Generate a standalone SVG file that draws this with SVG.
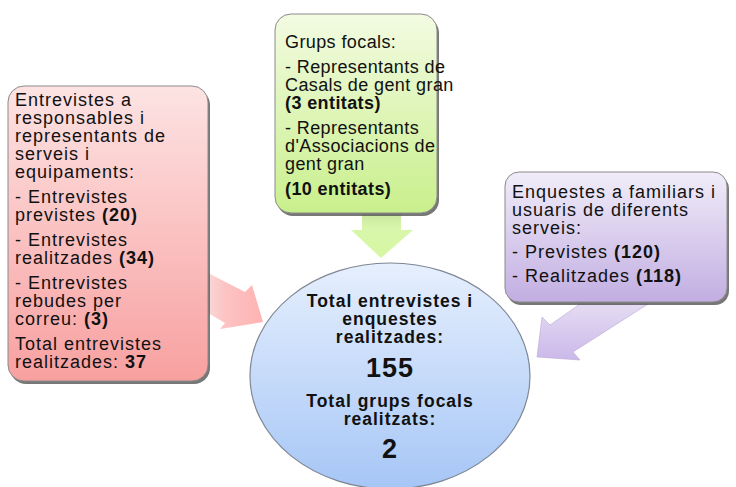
<svg xmlns="http://www.w3.org/2000/svg" width="736" height="487" viewBox="0 0 736 487">
<defs>
<linearGradient id="gPink" x1="0" y1="0" x2="0" y2="1"><stop offset="0" stop-color="#fde3e3"/><stop offset="1" stop-color="#f8a0a0"/></linearGradient>
<linearGradient id="gGreen" x1="0" y1="0" x2="0" y2="1"><stop offset="0" stop-color="#f3fbe2"/><stop offset="1" stop-color="#c9ef8c"/></linearGradient>
<linearGradient id="gPurple" x1="0" y1="0" x2="0" y2="1"><stop offset="0" stop-color="#f1edf9"/><stop offset="1" stop-color="#c2aee2"/></linearGradient>
<linearGradient id="gBlue" x1="0" y1="0" x2="0" y2="1"><stop offset="0" stop-color="#e6effd"/><stop offset="1" stop-color="#a6c6f6"/></linearGradient>
<linearGradient id="aPink" x1="0" y1="0" x2="1" y2="0"><stop offset="0" stop-color="#fbd6d6"/><stop offset="0.3" stop-color="#fcc4c4"/><stop offset="1" stop-color="#ffb2b2"/></linearGradient>
<linearGradient id="aGreen" x1="0" y1="0" x2="0" y2="1"><stop offset="0" stop-color="#c8e6a0"/><stop offset="0.3" stop-color="#d8f6aa"/><stop offset="1" stop-color="#d6f7a4"/></linearGradient>
<linearGradient id="aPurple" x1="0" y1="0" x2="0" y2="1"><stop offset="0" stop-color="#e4dcf2"/><stop offset="1" stop-color="#cbb8ea"/></linearGradient>
</defs>
<style>
text{font-family:"Liberation Sans",Arial,sans-serif;font-size:18px;letter-spacing:1px;fill:#111}
.b{font-weight:bold}
.g{letter-spacing:0.4px}
.c{text-anchor:middle;font-weight:bold;font-size:17.5px}
.big{font-size:27px}
.shadow{fill:#555;opacity:0.8}
.box{stroke:#8a8a8a;stroke-width:1}
</style>
<g id="connectors">
<polygon points="208,273 245,292 252,285 263,322 220,329 225,323 208,313" fill="url(#aPink)"/>
<polygon points="362,214 401,214 401,230 413,230 381,258 351,230 362,230" fill="url(#aGreen)"/>
<polygon points="580,304 550,325 542,317 537,357 580,360 573,352 648,304" fill="url(#aPurple)" stroke="#b8a8d4" stroke-width="0.6"/>
</g>
<g id="node-left">
<rect x="10" y="89" width="200" height="295" rx="16" class="shadow"/>
<rect x="8" y="86" width="200" height="295" rx="16" fill="url(#gPink)" class="box"/>
<text x="15" y="106">Entrevistes a</text>
<text x="15" y="124">responsables i</text>
<text x="15" y="142">representants de</text>
<text x="15" y="160">serveis i</text>
<text x="15" y="178">equipaments:</text>
<text x="15" y="203">- Entrevistes</text>
<text x="15" y="221">previstes <tspan class="b">(20)</tspan></text>
<text x="15" y="246">- Entrevistes</text>
<text x="15" y="264">realitzades <tspan class="b">(34)</tspan></text>
<text x="15" y="289">- Entrevistes</text>
<text x="15" y="307">rebudes per</text>
<text x="15" y="325">correu: <tspan class="b">(3)</tspan></text>
<text x="15" y="350">Total entrevistes</text>
<text x="15" y="368">realitzades: <tspan class="b">37</tspan></text>
</g>
<g id="node-top">
<rect x="277" y="17" width="162" height="199" rx="16" class="shadow"/>
<rect x="275" y="14" width="162" height="199" rx="16" fill="url(#gGreen)" class="box"/>
<text x="285" y="48" class="g">Grups focals:</text>
<text x="285" y="73" class="g">- Representants de</text>
<text x="285" y="91" class="g">Casals de gent gran</text>
<text x="285" y="109" class="b g">(3 entitats)</text>
<text x="285" y="134" class="g">- Representants</text>
<text x="285" y="152" class="g">d'Associacions de</text>
<text x="285" y="170" class="g">gent gran</text>
<text x="285" y="195" class="b g">(10 entitats)</text>
</g>
<g id="node-right">
<rect x="507" y="175" width="222" height="130" rx="14" class="shadow"/>
<rect x="505" y="172" width="222" height="130" rx="14" fill="url(#gPurple)" class="box"/>
<text x="512" y="198">Enquestes a familiars i</text>
<text x="512" y="216">usuaris de diferents</text>
<text x="512" y="234">serveis:</text>
<text x="512" y="258">- Previstes <tspan class="b">(120)</tspan></text>
<text x="512" y="282">- Realitzades <tspan class="b">(118)</tspan></text>
</g>
<g id="node-center">
<ellipse cx="390" cy="376" rx="140" ry="113" fill="url(#gBlue)" stroke="#7f8793" stroke-width="1.2"/>
<text x="390" y="307" class="c">Total entrevistes i</text>
<text x="390" y="325" class="c">enquestes</text>
<text x="390" y="343" class="c">realitzades:</text>
<text x="390" y="377" class="c big">155</text>
<text x="390" y="407" class="c">Total grups focals</text>
<text x="390" y="425" class="c">realitzats:</text>
<text x="390" y="458" class="c big">2</text>
</g>
</svg>
